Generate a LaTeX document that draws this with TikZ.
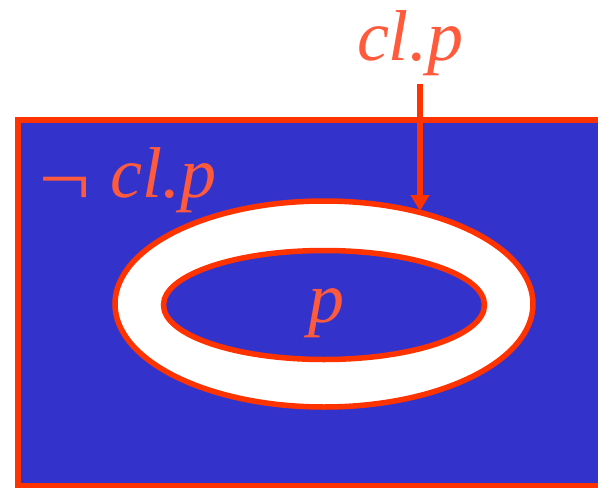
\documentclass[tikz,border=0pt]{standalone}
\usepackage{graphicx}
\usepackage{fontspec}
\newfontfamily\timesit{LiberationSerif-Italic.ttf}
\usetikzlibrary{shapes.geometric,arrows.meta}
\definecolor{bluefill}{HTML}{3333CC}
\definecolor{redline}{HTML}{FF3300}
\definecolor{redtext}{HTML}{FF5A3C}
\tikzset{
  lbl/.style={text=redtext, font=\fontsize{72}{72}\selectfont\timesit, inner sep=0pt, anchor=base},
  ring/.style={ellipse, draw=redline, line width=5.5pt, inner sep=0pt},
}
\begin{document}
\begin{tikzpicture}[x=1pt,y=-1pt]
\useasboundingbox (0,0) rectangle (598,488);
\begin{scope}
\clip (0,0) rectangle (598,488);
\draw[fill=bluefill, draw=redline, line width=5.5pt] (18,120) rectangle (640,486);
\end{scope}
\node[ring, fill=white, minimum width=418pt, minimum height=206pt] (outer) at (324,304) {};
\node[ring, fill=bluefill, minimum width=321pt, minimum height=109pt] (inner) at (324,305) {};
\node[lbl] (p) at (326,322) {p};
\node[lbl, anchor=base west] (ncl) at (33,197) {\raisebox{-8.6pt}{\scalebox{1.28}[1.1]{¬}}\hspace{15pt}cl.p};
\node[lbl] (cl) at (410,60) {cl.p};
\coordinate (src) at (420,84);
\coordinate (tip) at (420,211);
\draw[redline, line width=6pt, -{Triangle[width=18pt,length=16pt]}] (src) -- (tip);
\end{tikzpicture}
\end{document}
